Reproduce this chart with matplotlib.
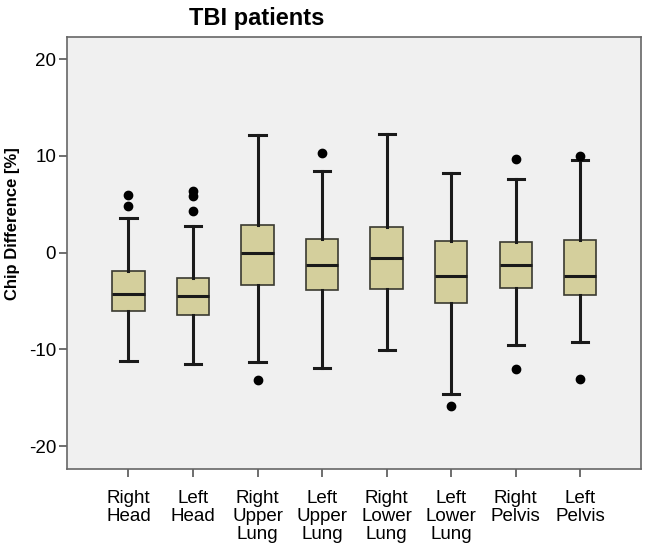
import matplotlib
matplotlib.use('Agg')
import matplotlib.pyplot as plt

plt.rcParams['font.family'] = ['Liberation Sans', 'DejaVu Sans']
plt.rcParams['axes.unicode_minus'] = False

labels = ["Right\nHead", "Left\nHead", "Right\nUpper\nLung", "Left\nUpper\nLung",
          "Right\nLower\nLung", "Left\nLower\nLung", "Right\nPelvis", "Left\nPelvis"]
whislo = [-11.2, -11.5, -11.3, -11.9, -10.1, -14.6, -9.5, -9.2]
q1 = [-6.0, -6.4, -3.3, -3.9, -3.75, -5.2, -3.7, -4.4]
med = [-4.3, -4.5, 0.0, -1.3, -0.6, -2.4, -1.3, -2.4]
q3 = [-1.9, -2.65, 2.85, 1.45, 2.7, 1.25, 1.05, 1.35]
whishi = [3.6, 2.8, 12.2, 8.4, 12.3, 8.25, 7.6, 9.55]
fliers = [[6.0, 4.8], [6.4, 5.9, 4.3], [-13.15], [10.25], [], [-15.85], [9.7, -12.0], [10.0, -13.05]]

stats = []
for i in range(len(labels)):
    stats.append(dict(label=labels[i], whislo=whislo[i], q1=q1[i], med=med[i],
                      q3=q3[i], whishi=whishi[i], fliers=fliers[i]))

fig = plt.figure(figsize=(6.46, 5.49), dpi=100)
ax = fig.add_axes([0.104, 0.145, 0.889, 0.787])
ax.set_facecolor('#f0f0f0')

ax.bxp(stats, positions=range(1, 9), widths=0.5, patch_artist=True,
       boxprops=dict(facecolor='#d4cf9c', edgecolor='#3a3a30', linewidth=1.2),
       medianprops=dict(color='#1a1a1a', linewidth=2.2),
       whiskerprops=dict(color='#1a1a1a', linewidth=2.2),
       capprops=dict(color='#1a1a1a', linewidth=2.2),
       capwidths=0.25,
       flierprops=dict(marker='o', markerfacecolor='black', markeredgecolor='black', markersize=6))

ax.set_xlim(0.05, 8.95)
ax.set_ylim(-22.4, 22.25)
ax.set_yticks([-20, -10, 0, 10, 20])
ax.tick_params(axis='both', labelsize=13.5, length=6, color='#555555', width=1.2)
ax.tick_params(axis='y', pad=2)
ax.tick_params(axis='x', pad=9)
for t in ax.get_xticklabels():
    t.set_linespacing(1.05)
for s in ax.spines.values():
    s.set_color('#666666')
    s.set_linewidth(1.2)

ax.set_ylabel("Chip Difference [%]", fontsize=12, fontweight='bold')
ax.yaxis.set_label_coords(-0.082, 0.568)
fig.text(0.398, 0.955, "TBI patients", fontsize=17, fontweight='bold', ha='center', va='baseline')

fig.savefig('out.png', dpi=100)
